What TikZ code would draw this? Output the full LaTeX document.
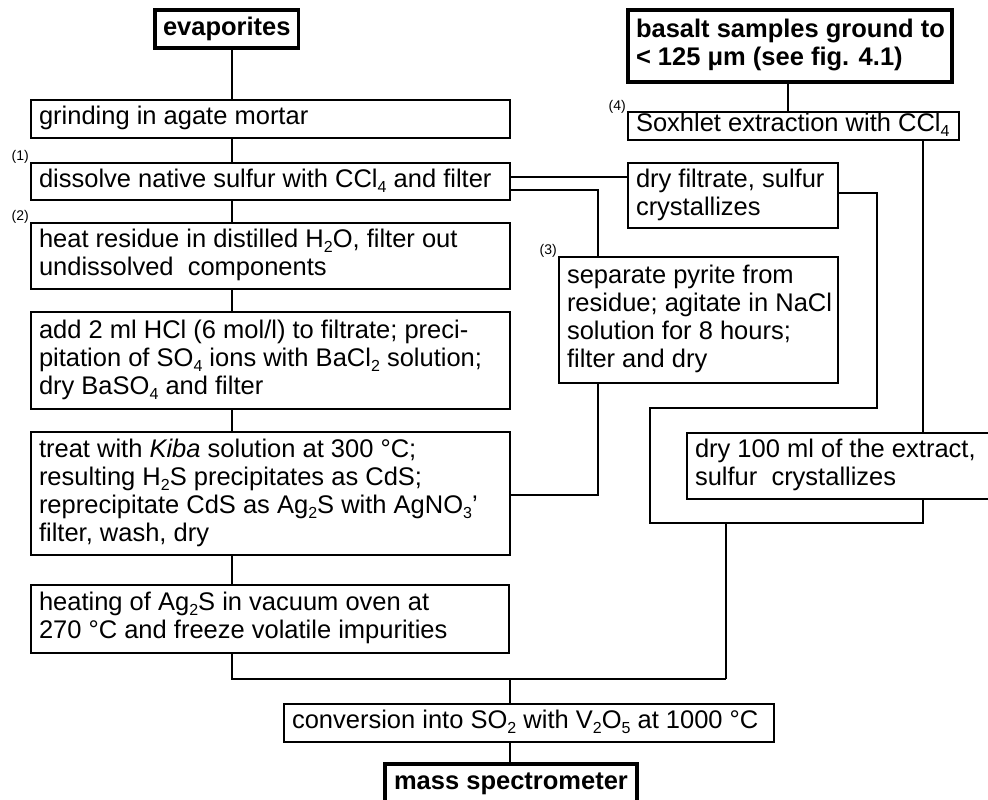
\documentclass[tikz,border=0pt]{standalone}
\usepackage{fontspec}
\setmainfont{Liberation Sans}
\newcommand\fs{\fontsize{25.5}{28}\selectfont}
\newcommand\sbs[1]{\raisebox{-5pt}{\fontsize{16}{16}\selectfont #1}}
\newcommand\tb[2]{\makebox[#1][l]{\begin{tabular}{@{}l@{}}#2\end{tabular}}}
\tikzset{
  box/.style={draw, line width=1.7pt, fill=white, anchor=north west, outer sep=0pt,
              inner xsep=8pt, inner ysep=0pt, font=\fs},
  titlebox/.style={box, line width=3.2pt, font=\fs\bfseries},
  lbl/.style={anchor=south east, inner sep=0pt, font=\fontsize{14}{14}\selectfont},
  link/.style={line width=1.3pt},
}
\begin{document}
\begin{tikzpicture}[x=1pt,y=-1pt]
\useasboundingbox (0,0) rectangle (988,800);
% left column
\node[titlebox, minimum width=137pt, minimum height=38pt] (evap) at (155,10) {evaporites};
\node[box, minimum height=38pt] (grind) at (31,100) {\tb{463pt}{grinding in agate mortar}};
\node[box, minimum height=37pt] (dissolve) at (31,163) {\tb{463pt}{dissolve native sulfur with CCl\sbs{4} and filter}};
\node[box, minimum height=66pt] (heat) at (31,223) {\tb{463pt}{heat residue in distilled H\sbs{2}O, filter out\\undissolved~ components}};
\node[box, minimum height=97pt] (add) at (31,312) {\tb{463pt}{add 2 ml HCl (6 mol/l) to filtrate; preci-\\pitation of SO\sbs{4} ions with BaCl\sbs{2} solution;\\dry BaSO\sbs{4} and filter}};
\node[box, minimum height=123pt] (treat) at (31,432) {\tb{463pt}{treat with \textit{Kiba} solution at 300 °C;\\resulting H\sbs{2}S precipitates as CdS;\\reprecipitate CdS as Ag\sbs{2}S with AgNO\sbs{3}'\\filter, wash, dry}};
\node[box, minimum height=68pt] (heating) at (31,585) {\tb{462pt}{heating of Ag\sbs{2}S in vacuum oven at\\270 °C and freeze volatile impurities}};
\node[box, minimum height=38pt] (conv) at (284,704) {\tb{474pt}{conversion into SO\sbs{2} with V\sbs{2}O\sbs{5} at 1000 °C}};
\node[titlebox, minimum width=252pt, minimum height=40pt] (mass) at (385,764) {mass spectrometer};
% right side
\node[titlebox, minimum height=72pt] (basalt) at (628,10) {\tb{308pt}{basalt samples ground to\\< 125 μm (see fig. 4.1)}};
\node[box, minimum height=28pt] (sox) at (628,112) {\tb{315pt}{Soxhlet extraction with CCl\sbs{4}}};
\node[box, minimum height=65pt] (dryf) at (628,163) {\tb{194pt}{dry filtrate, sulfur\\crystallizes}};
\node[box, minimum height=126pt] (pyr) at (559,257) {\tb{263pt}{separate pyrite from\\residue; agitate in NaCl\\solution for 8 hours;\\filter and dry}};
\node[box, minimum height=66pt] (dry100) at (687,433) {\tb{289pt}{dry 100 ml of the extract,\\sulfur~ crystallizes}};
% labels
\node[lbl] (l1) at (29,164) {(1)};
\node[lbl] (l2) at (29,224) {(2)};
\node[lbl] (l3) at (557,258) {(3)};
\node[lbl] (l4) at (626,114) {(4)};
% helper coordinates
\coordinate (cx) at (232,0);
\coordinate (jr) at (726,679);
\coordinate (jm) at (726,523);
\coordinate (jb) at (510,679);
\coordinate (ya) at (0,177);
\coordinate (xp) at (598,190);
\coordinate (yb) at (598,495);
\coordinate (k0) at (877,193);
\coordinate (k1) at (877,408);
\coordinate (k2) at (650,523);
\coordinate (xs) at (923,0);
\coordinate (xb) at (788,0);
% connectors
\draw[link] (evap.south -| cx) -- (grind.north -| cx);
\draw[link] (grind.south -| cx) -- (dissolve.north -| cx);
\draw[link] (dissolve.south -| cx) -- (heat.north -| cx);
\draw[link] (heat.south -| cx) -- (add.north -| cx);
\draw[link] (add.south -| cx) -- (treat.north -| cx);
\draw[link] (treat.south -| cx) -- (heating.north -| cx);
\draw[link] (heating.south -| cx) |- (jr);
\draw[link] (jm) -- (jr);
\draw[link] (jb) -- (conv.north -| jb);
\draw[link] (conv.south -| jb) -- (mass.north -| jb);
\draw[link] (dissolve.east |- ya) -- (dryf.west |- ya);
\draw[link] (dissolve.east |- xp) -| (pyr.north -| xp);
\draw[link] (pyr.south -| yb) |- (treat.east |- yb);
\draw[link] (dryf.east |- k0) -| (k1) -| (k2) -- (jm);
\draw[link] (basalt.south -| xb) -- (sox.north -| xb);
\draw[link] (sox.south -| xs) -- (dry100.north -| xs);
\draw[link] (dry100.south -| xs) |- (jm);
\end{tikzpicture}
\end{document}
